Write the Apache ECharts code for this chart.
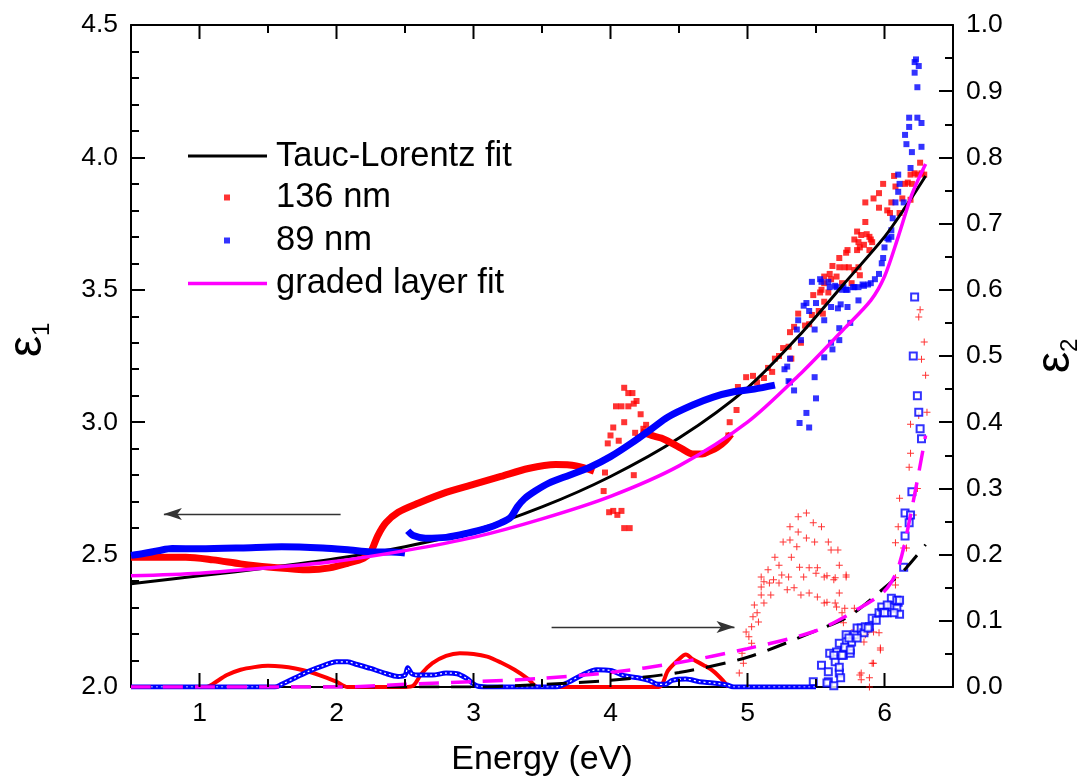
<!DOCTYPE html>
<html>
<head>
<meta charset="utf-8">
<script src="https://cdn.jsdelivr.net/npm/echarts@6.0.0/dist/echarts.min.js"></script>
<style>
html,body{margin:0;padding:0;background:#fff;}
#chart{width:1081px;height:784px;}
</style>
</head>
<body>
<div id="chart"></div>
<script>
// ---------- data (Energy eV, value) ----------
const xRange = [0.5, 6.5];
const xMajorTicks = [1, 2, 3, 4, 5, 6];
const xMinorTicks = [1.5, 2.5, 3.5, 4.5, 5.5];

// epsilon_1 (left axis)
const taucLorentzE1 = [[0.5,2.39],[1.0,2.42],[1.5,2.45],[2.0,2.485],[2.5,2.53],[3.0,2.59],[3.5,2.68],[4.0,2.795],[4.5,2.94],[5.0,3.13],[5.4,3.34],[5.7,3.52],[6.0,3.70],[6.15,3.81],[6.3,3.93]];
const gradedE1 = [[0.5,2.42],[1.0,2.43],[1.5,2.45],[2.0,2.475],[2.5,2.515],[3.0,2.565],[3.5,2.635],[4.0,2.72],[4.5,2.835],[5.0,3.0],[5.4,3.19],[5.7,3.35],[5.9,3.46],[6.0,3.55],[6.1,3.70],[6.2,3.86],[6.3,3.975]];

const red136E1BandA = [[0.5,2.49],[0.7,2.49],[0.9,2.49],[1.1,2.48],[1.3,2.465],[1.5,2.453],[1.7,2.445],[1.8,2.443],[1.95,2.45],[2.08,2.467],[2.2,2.487],[2.25,2.51],[2.3,2.57],[2.36,2.62],[2.45,2.66],[2.6,2.695],[2.8,2.735],[3.0,2.765],[3.2,2.795],[3.4,2.825],[3.6,2.84],[3.75,2.835],[3.88,2.815]];
const red136E1BandB = [[4.22,2.965],[4.3,2.95],[4.37,2.94],[4.45,2.92],[4.52,2.9],[4.6,2.88],[4.67,2.88],[4.72,2.89],[4.78,2.905],[4.84,2.93],[4.88,2.955]];
const red136E1Points = [[3.98,2.92],[3.96,2.81],[3.95,2.74],[3.99,2.66],[4.02,2.665],[4.05,2.65],[4.08,2.665],[4.1,2.60],[4.14,2.60],[4.1,3.13],[4.13,3.11],[4.16,3.11],[4.04,3.06],[4.08,3.06],[4.13,3.06],[4.17,3.07],[4.19,3.08],[4.22,3.03],[4.02,2.98],[4.1,3.0],[4.06,2.93],[4.18,2.96],[4.26,2.99],[4.24,2.975],[4.17,2.80],[4.0,2.95],[4.2,2.94],
 [4.86,2.95],[4.87,3.0],[4.92,3.046],[4.93,3.133],[4.99,3.17],[5.04,3.175],[5.07,3.15],[5.12,3.167],[5.15,3.205],[5.18,3.19],[5.2,3.24],[5.23,3.25],[5.26,3.28],[5.3,3.285],[5.32,3.24],[5.31,3.34],[5.34,3.36],[5.42,3.365],[5.39,3.30],[5.37,3.41],[5.47,3.405],[5.45,3.37],[5.48,3.48],[5.53,3.49],[5.56,3.455],[5.52,3.42],[5.55,3.41],[5.54,3.5],[5.59,3.49],[5.56,3.525],[5.61,3.54],[5.6,3.56],[5.67,3.585],[5.67,3.62],[5.72,3.64],[5.74,3.585],[5.71,3.585],[5.78,3.575],[5.81,3.585],[5.82,3.555],[5.8,3.65],[5.85,3.67],[5.81,3.68],[5.91,3.68],[5.89,3.70],[5.87,3.71],[5.69,3.525],[5.76,3.525],[5.56,3.55],[5.62,3.59],[5.65,3.55],[5.73,3.65],[5.78,3.69],[5.83,3.707],[5.86,3.756],[5.9,3.69],[5.89,3.65],[5.82,3.66],[5.8,3.72],[5.86,3.83],[5.92,3.845],[5.96,3.865],[5.96,3.81],[5.99,3.90],[6.02,3.80],[6.04,3.79],[6.05,3.83],[6.07,3.93],[6.08,3.89],[6.11,3.79],[6.13,3.845],[6.15,3.90],[6.17,3.905],[6.19,3.84],[6.2,3.90],[6.19,3.935],[6.24,3.935],[6.27,3.94],[6.26,3.98],[6.29,3.935],[6.22,3.94]];

const blue89E1BandA = [[0.5,2.497],[0.6,2.505],[0.7,2.515],[0.8,2.523],[1.0,2.522],[1.3,2.525],[1.6,2.53],[1.9,2.525],[2.1,2.517],[2.25,2.51],[2.4,2.51],[2.5,2.506]];
const blue89E1BandB = [[2.52,2.59],[2.56,2.572],[2.65,2.562],[2.8,2.565],[2.95,2.58],[3.1,2.60],[3.2,2.62],[3.27,2.64],[3.32,2.68],[3.37,2.71],[3.45,2.74],[3.55,2.77],[3.7,2.80],[3.85,2.83],[4.0,2.87],[4.15,2.92],[4.3,2.975],[4.42,3.02],[4.6,3.065],[4.75,3.095],[4.9,3.115],[5.05,3.125],[5.2,3.14]];
const blue89E1Points = [[5.29,3.21],[5.31,3.24],[5.27,3.2],[5.34,3.12],[5.31,3.15],[5.3,3.155],[5.36,3.35],[5.37,3.385],[5.39,3.31],[5.41,3.44],[5.43,3.45],[5.45,3.42],[5.47,3.53],[5.5,3.45],[5.49,3.35],[5.43,3.035],[5.38,2.997],[5.45,2.98],[5.5,3.09],[5.49,3.17],[5.56,3.245],[5.61,3.30],[5.62,3.275],[5.67,3.355],[5.67,3.31],[5.75,3.375],[5.53,3.54],[5.59,3.53],[5.56,3.385],[5.61,3.435],[5.66,3.43],[5.68,3.445],[5.73,3.435],[5.7,3.51],[5.64,3.515],[5.72,3.50],[5.78,3.51],[5.81,3.46],[5.85,3.515],[5.88,3.52],[5.9,3.525],[5.93,3.54],[5.96,3.56],[5.98,3.60],[5.99,3.62],[6.0,3.66],[6.03,3.69],[6.05,3.70],[5.54,3.53],[5.6,3.51],[5.65,3.51],[5.69,3.50],[5.73,3.50],[5.77,3.51],[5.81,3.51],[5.84,3.52],[6.02,3.695],[6.05,3.725],[6.06,3.77],[6.08,3.83],[6.1,3.87],[6.11,3.90],[6.1,3.935],[6.14,3.83],[6.19,3.96],[6.16,4.05],[6.2,4.02],[6.15,4.085],[6.18,4.115],[6.18,4.15],[6.24,4.15],[6.27,4.13],[6.27,4.04],[6.22,4.32],[6.22,4.36],[6.25,4.345],[6.24,4.265],[6.23,4.37]];

// epsilon_2 (right axis)
const taucLorentzE2 = [[0.5,0],[3.0,0],[3.5,0.004],[4.0,0.01],[4.5,0.022],[5.0,0.045],[5.5,0.085],[5.75,0.108],[6.0,0.15],[6.15,0.178],[6.3,0.215]];
const gradedE2 = [[0.5,0],[2.0,0],[2.5,0.004],[3.0,0.008],[3.5,0.013],[4.0,0.022],[4.5,0.037],[5.0,0.058],[5.5,0.085],[5.8,0.117],[6.0,0.145],[6.1,0.18],[6.2,0.27],[6.3,0.38]];
const red136E2Band = [[0.5,0],[1.05,0],[1.1,0.005],[1.2,0.018],[1.3,0.026],[1.4,0.03],[1.5,0.032],[1.6,0.031],[1.7,0.028],[1.8,0.023],[1.9,0.016],[2.0,0.008],[2.08,0],[2.5,0],[2.56,0.002],[2.62,0.02],[2.7,0.036],[2.8,0.047],[2.9,0.051],[3.0,0.05],[3.1,0.046],[3.2,0.037],[3.3,0.026],[3.4,0.012],[3.47,0],[4.35,0],[4.42,0.025],[4.5,0.042],[4.55,0.049],[4.6,0.042],[4.68,0.033],[4.75,0.024],[4.82,0.01],[4.86,0]];
const red136E2Points = [[5.37,0.257],[5.43,0.263],[5.48,0.248],[5.54,0.242],[5.31,0.242],[5.37,0.234],[5.26,0.219],[5.31,0.222],[5.43,0.225],[5.49,0.219],[5.59,0.219],[5.61,0.207],[5.66,0.207],[5.36,0.212],[5.20,0.196],[5.32,0.196],[5.15,0.177],[5.23,0.184],[5.38,0.181],[5.45,0.18],[5.51,0.18],[5.67,0.184],[5.10,0.166],[5.25,0.169],[5.30,0.166],[5.41,0.166],[5.50,0.172],[5.56,0.166],[5.72,0.166],[5.12,0.159],[5.19,0.162],[5.63,0.162],[5.10,0.151],[5.16,0.157],[5.23,0.157],[5.34,0.15],[5.29,0.147],[5.10,0.139],[5.17,0.139],[5.39,0.139],[5.45,0.142],[5.51,0.136],[5.12,0.127],[5.56,0.127],[5.05,0.124],[5.65,0.121],[5.07,0.112],[5.71,0.119],[5.78,0.119],[5.04,0.106],[5.08,0.098],[5.70,0.097],[5.03,0.091],[4.99,0.083],[5.01,0.076],[5.03,0.066],[4.96,0.051],[4.97,0.036],[4.94,0.021],[5.78,0.086],[5.87,0.082],[5.92,0.083],[5.96,0.082],[5.97,0.056],[5.92,0.036],[5.83,0.021],[5.83,0.011],
 [6.26,0.57],[6.25,0.559],[6.29,0.521],[6.27,0.495],[6.3,0.471],[6.31,0.415],[6.25,0.41],[6.19,0.397],[6.19,0.353],[6.18,0.332],[6.24,0.30],[6.11,0.285],[6.21,0.26],[6.1,0.242],[6.08,0.218],[6.14,0.21],[6.16,0.21],[6.08,0.165],[6.08,0.154],[5.72,0.169],[5.64,0.165],[5.58,0.168],[5.67,0.142],[5.58,0.128],[5.64,0.127],[5.69,0.112],[5.85,0.068],[5.86,0.079],[5.97,0.059],[5.91,0.036],[5.82,0.018],[5.89,0.014],[5.89,0.0]];
const blue89E2Band = [[0.5,0],[1.55,0],[1.6,0.004],[1.7,0.014],[1.8,0.024],[1.9,0.032],[2.0,0.038],[2.08,0.038],[2.15,0.034],[2.25,0.028],[2.35,0.021],[2.45,0.016],[2.5,0.018],[2.52,0.029],[2.55,0.02],[2.6,0.018],[2.7,0.018],[2.8,0.021],[2.88,0.02],[2.95,0.013],[3.02,0.002],[3.1,0],[3.6,0],[3.7,0.008],[3.8,0.019],[3.9,0.026],[4.0,0.025],[4.1,0.017],[4.2,0.014],[4.28,0.01],[4.35,0.004],[4.4,0.004],[4.45,0.01],[4.55,0.012],[4.65,0.008],[4.75,0.006],[4.85,0.003],[4.9,0],[5.5,0]];
const blue89E2Points = [[5.48,0.008],[5.59,0.008],[5.54,0.033],[5.59,0.023],[5.67,0.021],[5.68,0.014],[5.64,0.038],[5.65,0.053],[5.6,0.051],[5.7,0.048],[5.75,0.051],[5.71,0.059],[5.67,0.066],[5.72,0.079],[5.76,0.068],[5.78,0.079],[5.8,0.089],[5.83,0.089],[5.85,0.082],[5.86,0.091],[5.89,0.091],[5.91,0.104],[5.94,0.101],[5.96,0.112],[5.98,0.121],[5.99,0.113],[6.02,0.112],[6.05,0.121],[6.05,0.134],[6.1,0.128],[6.09,0.119],[6.11,0.11],[6.15,0.263],[6.19,0.26],[6.18,0.248],[6.2,0.295],
 [6.22,0.589],[6.21,0.5],[6.24,0.44],[6.25,0.415],[6.26,0.39],[6.27,0.375],[6.15,0.228],[6.14,0.181],[6.09,0.131],[6.11,0.131],[6.02,0.124],[6.0,0.112],[6.07,0.112],[5.88,0.089],[5.74,0.074],[5.8,0.074],[5.71,0.06],[5.63,0.048],[5.69,0.048],[5.75,0.056],[5.67,0.03],[5.58,0.006],[5.63,0.002]];

// ---------- styling ----------
const FONT = '"Liberation Sans", Arial, Helvetica, sans-serif';
const BLACK = '#000000', RED = '#ff0000', BLUE = '#0000ff', MAGENTA = '#ff00ff';
const PLUS = 'path://M3,0H4V3H7V4H4V7H3V4H0V3H3Z';
const TICK_FONT = 26.5;
const LEG_FONT = 34.5;
const MAJOR_LEN = 14, MINOR_LEN = 8;
function ls() { return {color: BLACK, width: 2}; }

function xAxisDef(position, labels, extra) {
  return Object.assign({
    type: 'value', position: position, min: xRange[0], max: xRange[1], interval: 0.5,
    axisLine: {show: true, onZero: false, lineStyle: ls()},
    axisTick: {show: false},
    axisLabel: labels ? {show: true, fontSize: TICK_FONT, color: BLACK, fontFamily: FONT, margin: 13,
      formatter: v => (Number.isInteger(v) ? String(v) : '')} : {show: false},
    splitLine: {show: false}
  }, extra || {});
}
function yAxisDef(position, min, max, interval, minorSplit, sub, gap, namePad) {
  return {
    type: 'value', position: position, min: min, max: max, interval: interval,
    axisLine: {show: true, onZero: false, lineStyle: ls()},
    axisTick: {show: true, inside: true, length: MAJOR_LEN, lineStyle: ls()},
    minorTick: {show: true, splitNumber: minorSplit, length: MINOR_LEN, lineStyle: ls()},
    axisLabel: {show: true, fontSize: TICK_FONT, color: BLACK, fontFamily: FONT, margin: 13, formatter: v => v.toFixed(1)},
    splitLine: {show: false},
    name: '{e|ε}{s|' + sub + '}', nameLocation: 'middle', nameRotate: 90, nameGap: gap,
    nameTextStyle: {color: BLACK, fontFamily: FONT, padding: namePad, rich: {
      e: {fontSize: 48, lineHeight: 52, fontFamily: FONT, color: BLACK},
      s: {fontSize: 24, lineHeight: 20, verticalAlign: 'bottom', fontFamily: FONT, color: BLACK}
    }}
  };
}
function legendDef(name, color, left, top, w, h, padLeft) {
  return {data: [{name: name, icon: 'rect', itemStyle: {color: color}}], left: left, top: top, padding: 0,
    itemWidth: w, itemHeight: h, selectedMode: false,
    textStyle: {fontSize: LEG_FONT, color: BLACK, fontFamily: FONT, padding: [0, 0, 0, padLeft]}};
}

const option = {
  animation: false,
  backgroundColor: '#fff',
  grid: {left: 131, right: 128, top: 25, bottom: 97, containLabel: false, outerBoundsMode: 'none'},
  legend: [
    legendDef('Tauc-Lorentz fit', BLACK, 188, 138.5, 79, 3, 4),
    legendDef('136 nm', RED, 224, 180, 6, 6, 41),
    legendDef('89 nm', BLUE, 224, 223, 6, 6, 41),
    legendDef('graded layer fit', MAGENTA, 188, 266, 79, 3.5, 4)
  ],
  xAxis: [
    xAxisDef('bottom', true, {name: 'Energy (eV)', nameLocation: 'middle', nameGap: 56,
      nameTextStyle: {fontSize: 34, color: BLACK, fontFamily: FONT}}),
    xAxisDef('top', false)
  ],
  yAxis: [
    yAxisDef('left', 2, 4.5, 0.5, 5, '1', 77, [0, 0, 0, 32]),
    yAxisDef('right', 0, 1, 0.1, 2, '2', 77, [0, 0, 0, 0])
  ],
  series: [
    // ---- epsilon_2 (right axis) ----
    {name: '136 nm e2 band', type: 'line', yAxisIndex: 1, data: red136E2Band, showSymbol: false, smooth: 0.3,
     lineStyle: {color: RED, width: 4}, itemStyle: {color: RED}},
    {name: '136 nm e2', type: 'scatter', yAxisIndex: 1, data: red136E2Points, symbol: PLUS, symbolSize: 7,
     itemStyle: {color: RED}},
    {name: '89 nm e2 band', type: 'line', yAxisIndex: 1, data: blue89E2Band, showSymbol: false, smooth: 0.3,
     lineStyle: {color: BLUE, width: 5}, itemStyle: {color: BLUE}},
    {name: '89 nm e2 band hollow', type: 'line', yAxisIndex: 1, data: blue89E2Band, showSymbol: false, smooth: 0.3,
     lineStyle: {color: '#ffffff', width: 1.2, type: [2, 3]}},
    {name: '89 nm e2', type: 'scatter', yAxisIndex: 1, data: blue89E2Points, symbol: 'emptyRect', symbolSize: 7,
     itemStyle: {color: BLUE, borderColor: BLUE, borderWidth: 1}},
    {name: 'TL e2', type: 'line', yAxisIndex: 1, data: taucLorentzE2, showSymbol: false, smooth: 0.3,
     lineStyle: {color: BLACK, width: 3, type: [20, 12]}},
    {name: 'graded e2', type: 'line', yAxisIndex: 1, data: gradedE2, showSymbol: false, smooth: 0.3,
     lineStyle: {color: MAGENTA, width: 3.5, type: [20, 12]}},
    // ---- epsilon_1 (left axis) ----
    {name: 'Tauc-Lorentz fit', type: 'line', yAxisIndex: 0, data: taucLorentzE1, showSymbol: false, smooth: 0.3,
     lineStyle: {color: BLACK, width: 3}, itemStyle: {color: BLACK}},
    {name: '136 nm band A', type: 'line', yAxisIndex: 0, data: red136E1BandA, showSymbol: false, smooth: 0.3,
     lineStyle: {color: RED, width: 7}},
    {name: '136 nm band B', type: 'line', yAxisIndex: 0, data: red136E1BandB, showSymbol: false, smooth: 0.3,
     lineStyle: {color: RED, width: 7}},
    {name: '136 nm', type: 'scatter', yAxisIndex: 0, data: red136E1Points, symbol: 'rect', symbolSize: 6,
     itemStyle: {color: RED}},
    {name: '89 nm band A', type: 'line', yAxisIndex: 0, data: blue89E1BandA, showSymbol: false, smooth: 0.3,
     lineStyle: {color: BLUE, width: 7}},
    {name: '89 nm band B', type: 'line', yAxisIndex: 0, data: blue89E1BandB, showSymbol: false, smooth: 0.3,
     lineStyle: {color: BLUE, width: 7}},
    {name: '89 nm', type: 'scatter', yAxisIndex: 0, data: blue89E1Points, symbol: 'rect', symbolSize: 6,
     itemStyle: {color: BLUE}},
    {name: 'graded layer fit', type: 'line', yAxisIndex: 0, data: gradedE1, showSymbol: false, smooth: 0.3,
     lineStyle: {color: MAGENTA, width: 3.5}, itemStyle: {color: MAGENTA}},
    // ---- arrows ----
    {name: 'arrows', type: 'line', yAxisIndex: 0, data: [],
     markLine: {silent: true, animation: false, symbol: ['none', 'arrow'], symbolSize: [9, 18],
       label: {show: false}, lineStyle: {color: '#333', width: 1.3, type: 'solid'},
       data: [
         [{coord: [2.03, 2.653]}, {coord: [0.74, 2.653]}],
         [{coord: [3.57, 2.227]}, {coord: [4.905, 2.227]}]
       ]}}
  ]
};

const chart = echarts.init(document.getElementById('chart'), null, {renderer: 'canvas'});
chart.setOption(option);

// x-axis ticks (inward) on bottom and top edges, positioned with the chart's own x scale
const yBottom = chart.convertToPixel({yAxisIndex: 0}, 2.0);
const yTopPx = chart.convertToPixel({yAxisIndex: 0}, 4.5);
const tickGraphics = [];
function addTicks(values, len) {
  values.forEach(v => {
    const x = chart.convertToPixel({xAxisIndex: 0}, v);
    tickGraphics.push({type: 'line', silent: true, z: 100,
      shape: {x1: x, y1: yBottom, x2: x, y2: yBottom - len}, style: {stroke: BLACK, lineWidth: 2}});
    tickGraphics.push({type: 'line', silent: true, z: 100,
      shape: {x1: x, y1: yTopPx, x2: x, y2: yTopPx + len}, style: {stroke: BLACK, lineWidth: 2}});
  });
}
addTicks(xMajorTicks, MAJOR_LEN);
addTicks(xMinorTicks, MINOR_LEN);
chart.setOption({graphic: tickGraphics});
</script>
</body>
</html>
